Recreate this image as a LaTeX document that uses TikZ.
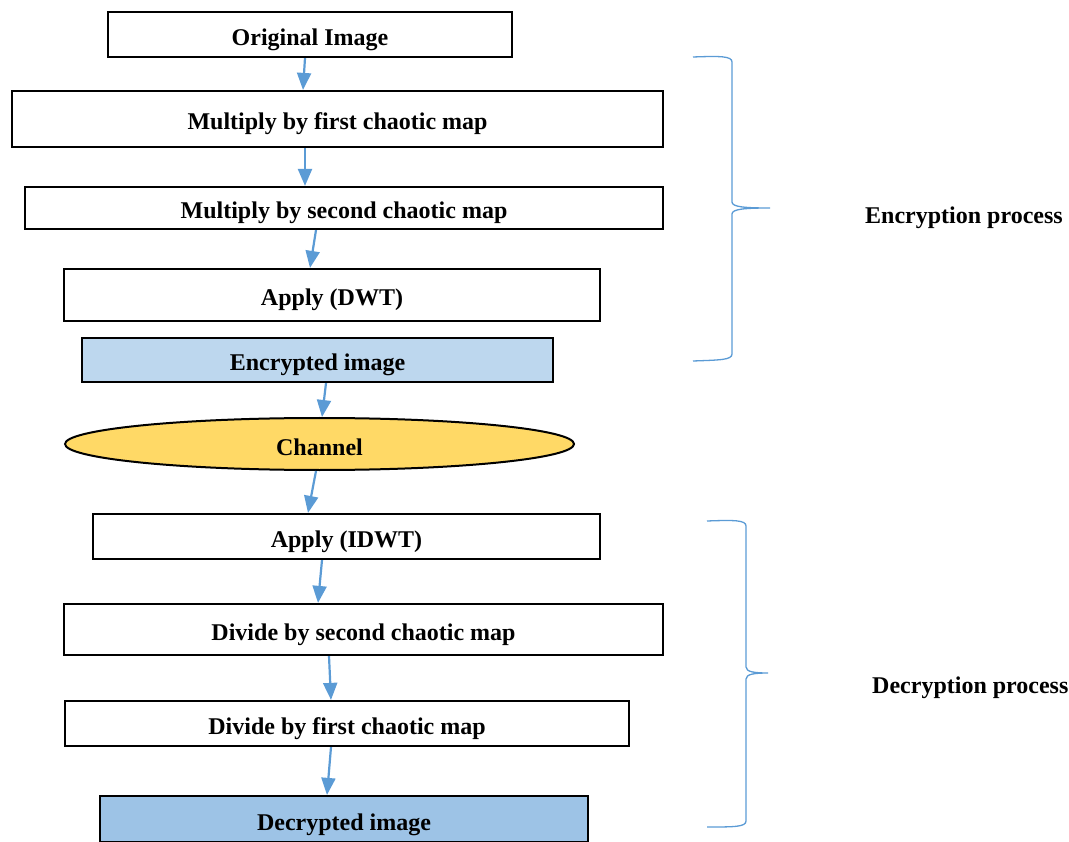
\documentclass[tikz,border=0pt]{standalone}
\usepackage{fontspec}
\setmainfont{Liberation Serif}
\usepackage{tikz}
\usetikzlibrary{arrows.meta,shapes.geometric}

\definecolor{flowblue}{HTML}{5B9BD5}
\definecolor{encfill}{HTML}{BDD7EE}
\definecolor{decfill}{HTML}{9DC3E6}
\definecolor{chanfill}{HTML}{FFD966}

\begin{document}
\begin{tikzpicture}[x=1pt,y=-1pt,
  proc box/.style={rectangle,draw=black,line width=2.2pt,fill=white,inner sep=0pt,
    font=\fontsize{24}{28}\selectfont\bfseries,text height=22pt,text depth=0pt},
  result box/.style={proc box,fill=#1},
  channel node/.style={ellipse,draw=black,line width=2pt,fill=chanfill,inner sep=0pt,
    font=\fontsize{24}{28}\selectfont\bfseries,text height=22pt,text depth=0pt},
  side label/.style={inner sep=0pt,anchor=west,font=\fontsize{24}{28}\selectfont\bfseries},
  brace line/.style={draw=flowblue,line width=1.3pt},
  flow/.style={-{Triangle[length=17pt,width=14pt]},draw=flowblue,line width=2.2pt}]
  \clip (0,0) rectangle (1069,842);

  \node[proc box,minimum width=404pt,minimum height=45pt] (orig) at (310,34.5) {Original Image};
  \node[proc box,minimum width=651pt,minimum height=56pt] (mult1) at (337.5,119) {Multiply by first chaotic map};
  \node[proc box,minimum width=638pt,minimum height=42pt] (mult2) at (344,208) {Multiply by second chaotic map};
  \node[proc box,minimum width=536pt,minimum height=52pt] (dwt) at (332,295) {Apply (DWT)};
  \node[result box=encfill,minimum width=471pt,minimum height=44pt] (enc) at (317.5,360) {Encrypted image};
  \node[channel node,minimum width=509pt,minimum height=52pt] (chan) at (319.5,444) {Channel};
  \node[proc box,minimum width=507pt,minimum height=45pt] (idwt) at (346.5,536.5) {Apply (IDWT)};
  \node[proc box,minimum width=599pt,minimum height=51pt] (div2) at (363.5,629.5) {Divide by second chaotic map};
  \node[proc box,minimum width=564pt,minimum height=45pt] (div1) at (347,723.5) {Divide by first chaotic map};
  \node[result box=decfill,minimum width=488pt,minimum height=46pt] (dec) at (344,819) {Decrypted image};

  \node[side label] (enclabel) at (865,217.5) {Encryption process};
  \node[side label] (declabel) at (872,688) {Decryption process};

  \draw[flow] ([xshift=-5pt]orig.south) -- ([xshift=-34.5pt]mult1.north);
  \draw[flow] ([xshift=-32.5pt]mult1.south) -- ([xshift=-39pt]mult2.north);
  \draw[flow] ([xshift=-28pt]mult2.south) -- ([xshift=-22pt]dwt.north);
  \draw[flow] ([xshift=8.5pt]enc.south) -- ([xshift=2.5pt]chan.north);
  \draw[flow] ([xshift=-3.5pt]chan.south) -- ([xshift=-38.5pt]idwt.north);
  \draw[flow] ([xshift=-24.5pt]idwt.south) -- ([xshift=-45.5pt]div2.north);
  \draw[flow] ([xshift=-34.5pt]div2.south) -- ([xshift=-16pt]div1.north);
  \draw[flow] ([xshift=-16pt]div1.south) -- ([xshift=-17pt]dec.north);

  % braces
  \draw[brace line] (693,57) .. controls (720,56) and (732,56) .. (732,62) -- (732,202)
    .. controls (732,207) and (745,208) .. (770,208)
    .. controls (745,208) and (732,209) .. (732,214) -- (732,354)
    .. controls (732,360) and (720,360) .. (693,361);
  \draw[brace line] (707,521) .. controls (734,520) and (746,520) .. (746,526) -- (746,667)
    .. controls (746,672) and (755,673) .. (768,673)
    .. controls (755,673) and (746,674) .. (746,679) -- (746,821)
    .. controls (746,827) and (734,827) .. (707,827);
\end{tikzpicture}
\end{document}
